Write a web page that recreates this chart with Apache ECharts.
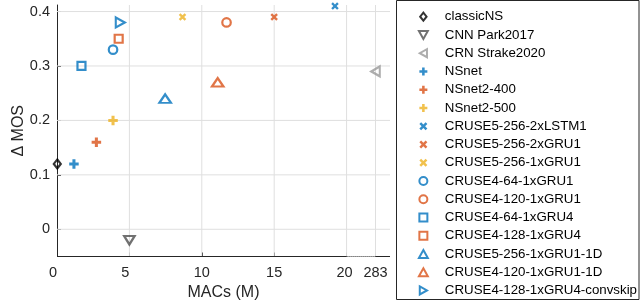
<!DOCTYPE html>
<html><head><meta charset="utf-8">
<script src="https://cdn.jsdelivr.net/npm/echarts@6/dist/echarts.min.js"></script>
<style>html,body{margin:0;padding:0;background:#fff}#c{width:640px;height:302px}</style>
</head><body><div id="c"></div>
<script>
// ---- data ----
const names = ['classicNS','CNN Park2017','CRN Strake2020','NSnet','NSnet2-400','NSnet2-500',
  'CRUSE5-256-2xLSTM1','CRUSE5-256-2xGRU1','CRUSE5-256-1xGRU1','CRUSE4-64-1xGRU1','CRUSE4-120-1xGRU1',
  'CRUSE4-64-1xGRU4','CRUSE4-128-1xGRU4','CRUSE5-256-1xGRU1-1D','CRUSE4-120-1xGRU1-1D','CRUSE4-128-1xGRU4-convskip'];
const macs = [0.02, 5.0, 283, 1.17, 2.72, 3.87, 19.2, 15.0, 8.67, 3.87, 11.71, 1.69, 4.26, 7.47, 11.1, 4.37];
const mos  = [0.12, -0.02, 0.29, 0.12, 0.16, 0.20, 0.41, 0.39, 0.39, 0.33, 0.38, 0.30, 0.35, 0.24, 0.27, 0.38];
const xTickValues = [0, 5, 10, 15, 20, 283];
const yTickValues = [0, 0.1, 0.2, 0.3, 0.4];

// ---- broken x axis: values above 20 jump to 283 ----
const BREAK_AT = 20, BREAK_POS = 22, X_MAX = 23, Y_MIN = -0.05, Y_MAX = 0.412;
const xPos = v => v > BREAK_AT ? BREAK_POS : v;
const xLabelOf = p => p === BREAK_POS ? '283' : String(p);

// ---- styles ----
const FONT = '"Liberation Sans", Arial, Helvetica, sans-serif';
const AX = '#262626';
const GRID = '#dfdfdf';
const BLUE = '#0072BD', ORANGE = '#D95319', YELLOW = '#EDB120';
const PLUS = 'path://M3.4,0H6.6V3.4H10V6.6H6.6V10H3.4V6.6H0V3.4H3.4Z';
const CROSS = 'path://M0,2.2L2.2,0L5,2.8L7.8,0L10,2.2L7.2,5L10,7.8L7.8,10L5,7.2L2.2,10L0,7.8L2.8,5Z';
const DIAM = 'path://M4,0L8,5L4,10L0,5Z';
const TDOWN = 'path://M0,0L10,0L5,9Z';
const TLEFT = 'path://M9,0L9,10L0,5Z';
const TUP = 'path://M5,0L10,9L0,9Z';
const TRIGHT = 'path://M0,0L9,5L0,10Z';
const SQ = 'path://M0,0H10V10H0Z';
const styles = [
  {s: DIAM, z: [7, 9], c: '#000000', f: false},
  {s: TDOWN, z: [10.5, 8.5], c: '#4d4d4d', f: false},
  {s: TLEFT, z: [8.5, 10], c: '#999999', f: false},
  {s: PLUS, z: 9.5, c: BLUE, f: true},
  {s: PLUS, z: 9.5, c: ORANGE, f: true},
  {s: PLUS, z: 9.5, c: YELLOW, f: true},
  {s: CROSS, z: 7.5, c: BLUE, f: true},
  {s: CROSS, z: 7.5, c: ORANGE, f: true},
  {s: CROSS, z: 7.5, c: YELLOW, f: true},
  {s: 'circle', z: 8.5, c: BLUE, f: false},
  {s: 'circle', z: 8.5, c: ORANGE, f: false},
  {s: SQ, z: 8, c: BLUE, f: false},
  {s: SQ, z: 8, c: ORANGE, f: false},
  {s: TUP, z: [11.5, 8.5], c: BLUE, f: false},
  {s: TUP, z: [11.5, 8.5], c: ORANGE, f: false},
  {s: TRIGHT, z: [9, 10], c: BLUE, f: false}
];
const xLabelTrail = {'0': '\u00a0\u00a0', '5': '\u00a0\u00a0', '20': '\u00a0'};

const scatterSeries = names.map((n, i) => {
  const st = styles[i];
  return {
    name: n, type: 'scatter', z: 5, animation: false,
    data: [[xPos(macs[i]), mos[i]]],
    symbol: st.s, symbolSize: st.z,
    itemStyle: st.f ? {color: st.c, borderWidth: 0}
                    : {color: 'rgba(255,255,255,0)', borderColor: st.c, borderWidth: 2.2},
    emphasis: {disabled: true}
  };
});

const xTickPos = xTickValues.map(xPos);
const seg = (a, b, type) => ({
  type: 'line', z: 3, silent: true, clip: false, symbol: 'none', animation: false,
  lineStyle: {color: AX, width: 1, type: type}, data: [[a, Y_MIN], [b, Y_MIN]],
  emphasis: {disabled: true}
});
const gridV = xTickPos.filter(v => v > 0).map(v => ({
  type: 'line', z: 1, silent: true, clip: false, symbol: 'none', animation: false,
  lineStyle: {color: GRID, width: 1}, data: [[v, Y_MIN], [v, Y_MAX]], emphasis: {disabled: true}
}));
const gridH = yTickValues.map(v => ({
  type: 'line', z: 1, silent: true, clip: false, symbol: 'none', animation: false,
  lineStyle: {color: GRID, width: 1}, data: [[0, v], [X_MAX, v]], emphasis: {disabled: true}
}));
const helper = [...gridV, ...gridH, seg(0, BREAK_AT, 'solid'), seg(BREAK_AT, BREAK_POS, 'dotted'), seg(BREAK_POS, X_MAX, 'solid')];

const chart = echarts.init(document.getElementById('c'), null, {renderer: 'canvas'});
chart.setOption({
  animation: false,
  backgroundColor: '#ffffff',
  textStyle: {fontFamily: FONT},
  grid: {left: 57, right: 250, top: 5, bottom: 45.5, containLabel: false, outerBoundsMode: 'none'},
  xAxis: {
    type: 'value', min: 0, max: X_MAX,
    name: 'MACs (M)', nameLocation: 'middle', nameGap: 28.5, nameMoveOverlap: false,
    nameTextStyle: {fontSize: 16, color: AX, fontFamily: FONT},
    axisLine: {show: false, onZero: false},
    axisTick: {show: true, inside: true, length: 4, customValues: xTickPos, lineStyle: {color: AX}},
    axisLabel: {customValues: xTickPos, margin: 9, fontSize: 14.5, color: AX, fontFamily: FONT,
      formatter: v => { const t = xLabelOf(v); return t + (xLabelTrail[t] || ''); }},
    splitLine: {show: false}
  },
  yAxis: {
    type: 'value', min: Y_MIN, max: Y_MAX,
    name: 'Δ MOS', nameLocation: 'middle', nameGap: 30, nameMoveOverlap: false,
    nameTextStyle: {fontSize: 16, color: AX, fontFamily: FONT},
    axisLine: {show: true, onZero: false, lineStyle: {color: AX, width: 1}},
    axisTick: {show: true, inside: true, length: 4, customValues: yTickValues, lineStyle: {color: AX}},
    axisLabel: {customValues: yTickValues, margin: 7, fontSize: 14.5, color: AX, fontFamily: FONT,
      padding: [4, 0, 0, 0],
      formatter: v => Math.abs(v) < 1e-9 ? '0' : v.toFixed(1)},
    splitLine: {show: false}
  },
  legend: {
    data: names, orient: 'vertical', right: 1, top: 1, align: 'left',
    padding: [8.7, 2, 2, 8.2],
    itemWidth: 33, itemHeight: 8, itemGap: 4.25,
    textStyle: {fontSize: 13.3, color: '#000', fontFamily: FONT, lineHeight: 14},
    selectedMode: false
  },
  graphic: [{type: 'rect', silent: true, z: 10,
    shape: {x: 396.5, y: 0.5, width: 242.5, height: 299},
    style: {fill: 'none', stroke: AX, lineWidth: 1}}],
  series: [...helper, ...scatterSeries]
});
</script>
</body></html>
